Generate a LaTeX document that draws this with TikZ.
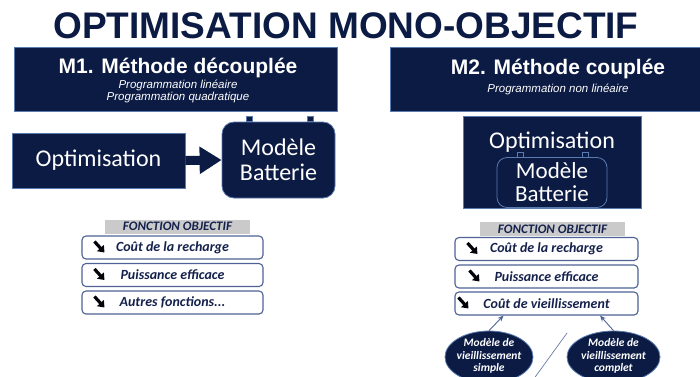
\documentclass[tikz,border=0pt]{standalone}
\usepackage{fontspec}
\setmainfont{Liberation Sans}
\newfontfamily\calfont{Carlito}
\usetikzlibrary{arrows.meta,positioning,shapes.geometric}
\definecolor{navy}{HTML}{0C1B44}
\definecolor{rimblue}{HTML}{5A7BB0}
\definecolor{listrim}{HTML}{4E6296}
\definecolor{labelgray}{HTML}{CACACA}
\definecolor{listtext}{HTML}{14214C}

\begin{document}
\begin{tikzpicture}[x=1pt,y=-1pt,
  darkbox/.style={draw=rimblue,line width=0.8pt,fill=navy,text=white,inner sep=0pt},
  battery/.style={darkbox,rounded corners=12pt,minimum width=113pt,minimum height=76pt,
    align=center,font=\calfont\fontsize{24}{25}\selectfont},
  plug/.style={draw=rimblue,line width=0.6pt,fill=navy},
  grayhead/.style={fill=labelgray,minimum width=145pt,minimum height=14pt,inner sep=0pt,
    text=listtext,font=\calfont\bfseries\itshape\fontsize{13}{13}\selectfont},
  critbox/.style={draw=listrim,line width=1.1pt,rounded corners=4pt,fill=white,
    minimum height=23pt,inner sep=0pt,text=listtext,
    font=\calfont\bfseries\itshape\fontsize{14}{14}\selectfont},
  pointer/.style={line width=3.2pt,black!85!navy,-{Triangle[length=6pt,width=9pt]}},
  bubble/.style={ellipse,draw=rimblue,line width=0.8pt,fill=navy,minimum height=52pt,inner sep=0pt},
  bubbletext/.style={text=white,align=center,font=\calfont\bfseries\itshape\fontsize{11.5}{12.5}\selectfont},
  feed/.style={draw=listrim,line width=0.9pt,-{Stealth[length=6pt,width=5pt]}},
]
\useasboundingbox (0,0) rectangle (700,376);
\node[text=navy,font=\bfseries\fontsize{37}{40}\selectfont] (title) at (346,26) {OPTIMISATION MONO-OBJECTIF};
% M1 : methode decouplee
\node[darkbox,minimum width=323pt,minimum height=64pt] (m1) at (175.5,79) {};
\node[text=white,font=\bfseries\fontsize{21}{24}\selectfont] (m1title) at (178,68) {M1. Méthode découplée};
\node[text=white,align=center,font=\itshape\fontsize{11.5}{12}\selectfont] (m1sub) at (178,91) {Programmation linéaire\\Programmation quadratique};
\node[darkbox,minimum width=173pt,minimum height=55pt,font=\calfont\fontsize{24}{26}\selectfont] (opt1) at (98.5,160.5) {Optimisation};
\node[battery] (bat1) at (278.5,160) {Modèle\\Batterie};
\foreach \dx in {-29,32}
  \draw[plug] ([xshift=\dx pt]bat1.north) ++(-3,0) rectangle ++(6,-5);
\draw[navy,line width=9pt,-{Triangle[length=22pt,width=26pt]}] (opt1.east) -- (bat1.west);
% M2 : methode couplee
\node[darkbox,minimum width=315pt,minimum height=64pt] (m2) at (547.5,79) {};
\node[text=white,font=\bfseries\fontsize{21}{24}\selectfont] (m2title) at (558,69) {M2. Méthode couplée};
\node[text=white,font=\itshape\fontsize{11.5}{12}\selectfont] (m2sub) at (558,89) {Programmation non linéaire};
\node[darkbox,minimum width=178pt,minimum height=92pt] (opt2) at (552,162) {};
\node[text=white,font=\calfont\fontsize{24}{26}\selectfont] (opt2txt) at (552,142) {Optimisation};
\node[battery,fill=none,minimum width=110pt,minimum height=50pt,rounded corners=10pt,
  font=\calfont\fontsize{23}{23}\selectfont] (bat2) at (552,182.5) {Modèle\\Batterie};
\foreach \dx in {-32,33}
  \draw[plug] ([xshift=\dx pt]bat2.north) ++(-3,0) rectangle ++(6,-5);
% fonction objectif
\node[grayhead] (head1) at (177.5,226.5) {FONCTION OBJECTIF};
\node[grayhead] (head2) at (552.5,229) {FONCTION OBJECTIF};
\node[critbox,minimum width=181pt] (l1) at (172.5,247.5) {Coût de la recharge};
\node[critbox,minimum width=181pt] (l2) at (172.5,275) {Puissance efficace};
\node[critbox,minimum width=181pt] (l3) at (172.5,302.5) {Autres fonctions...};
\node[critbox,minimum width=183pt] (r1) at (546.5,249) {Coût de la recharge};
\node[critbox,minimum width=183pt] (r2) at (546.5,276.5) {Puissance efficace};
\node[critbox,minimum width=183pt] (r3) at (546.5,303.5) {Coût de vieillissement};
\foreach \b/\dx in {l1/13,l2/13,l3/13,r1/13,r2/15,r3/4}
  \draw[pointer] ([shift={(\dx,-6)}]\b.west) -- ++(10,11);
% modeles de vieillissement
\node[bubble,minimum width=88pt] (simple) at (489,357) {};
\node[bubbletext] (simpletxt) at (489,356) {Modèle de\\vieillissement\\simple};
\node[bubble,minimum width=93pt] (complet) at (613.5,357) {};
\node[bubbletext] (complettxt) at (613.5,356) {Modèle de\\vieillissement\\complet};
\draw[feed] (simple.north) -- ([xshift=-43pt]r3.south);
\draw[feed] (complet.north) -- ([xshift=53.5pt]r3.south);
\draw[rimblue!70!gray,line width=0.7pt] (567,333) -- (533,380);
\end{tikzpicture}
\end{document}
